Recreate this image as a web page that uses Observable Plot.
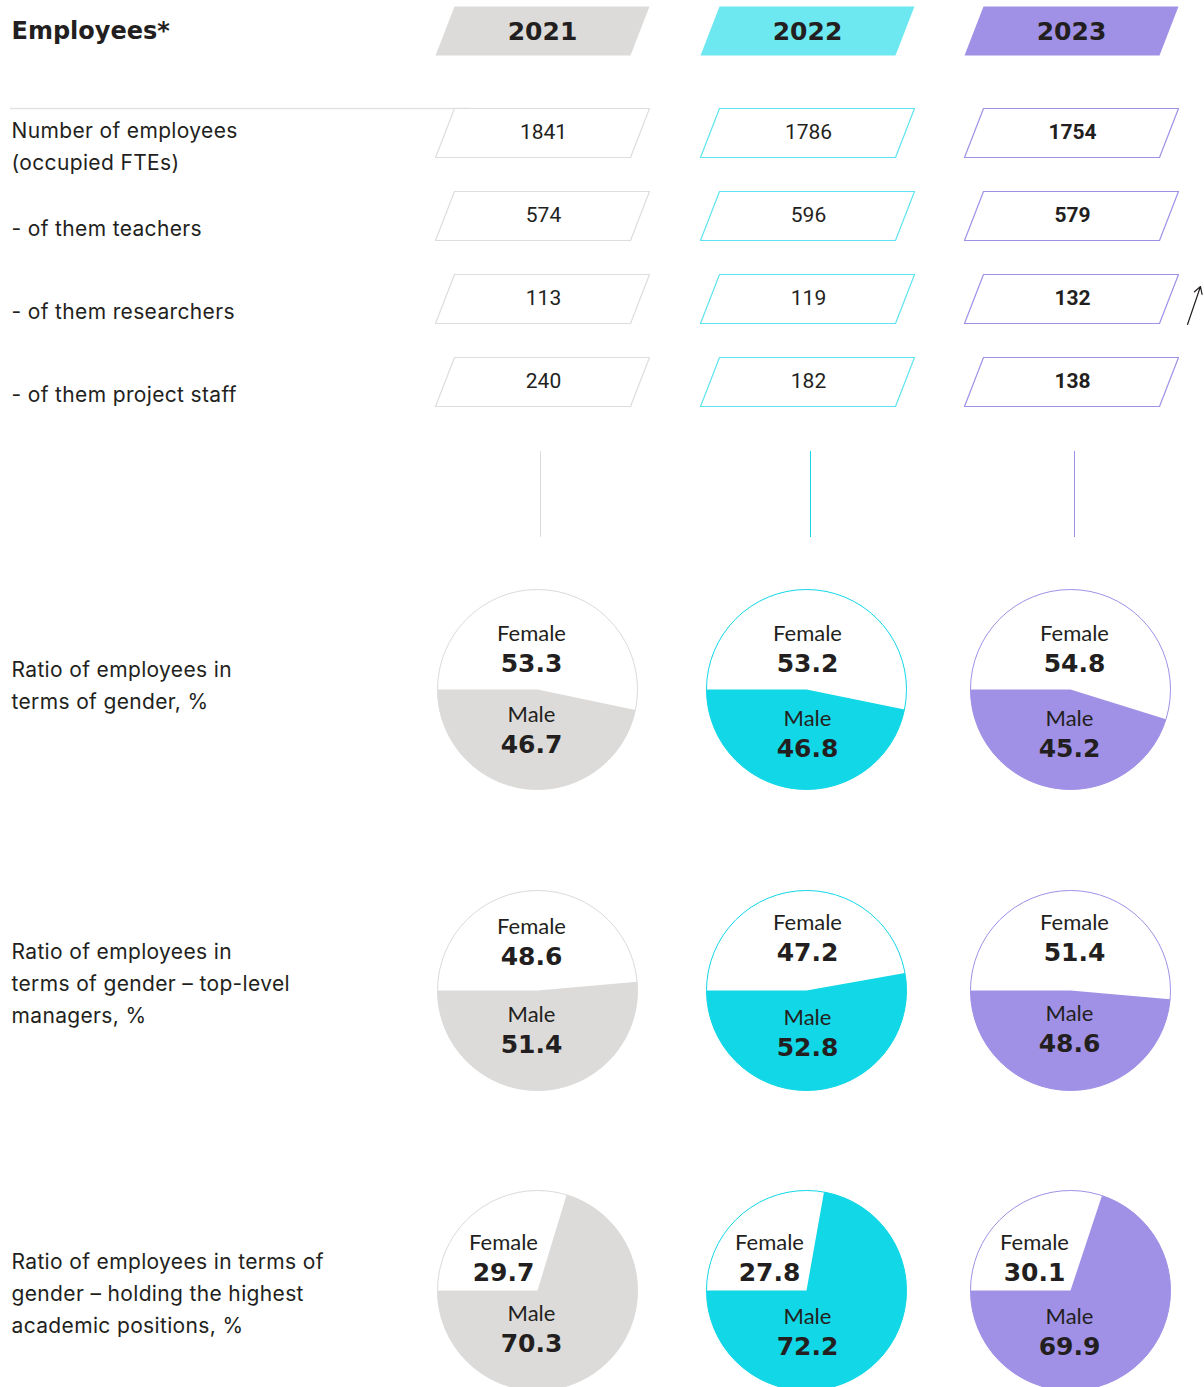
<!DOCTYPE html>
<html>
<head>
<meta charset="utf-8">
<script src="https://cdn.jsdelivr.net/npm/d3@7"></script>
<script src="https://cdn.jsdelivr.net/npm/@observablehq/plot@0.6"></script>
<style>
  html, body { margin: 0; padding: 0; background: #ffffff; }
  #chart svg { display: block; }
  #chart g[font-family="Inter"] text { letter-spacing: 0.35px; }
</style>
</head>
<body>
<div id="chart"></div>
<script>
// ---------------- DATA ----------------
const title = "Employees*";
const years = ["2021", "2022", "2023"];

const rowLabels = [
  "Number of employees\n(occupied FTEs)",
  "- of them teachers",
  "- of them researchers",
  "- of them project staff"
];
const employees2021 = [1841, 574, 113, 240];
const employees2022 = [1786, 596, 119, 182];
const employees2023 = [1754, 579, 132, 138];

const pieLabels = [
  "Ratio of employees in\nterms of gender, %",
  "Ratio of employees in\nterms of gender – top-level\nmanagers, %",
  "Ratio of employees in terms of\ngender – holding the highest\nacademic positions, %"
];
const female2021 = [53.3, 48.6, 29.7];
const female2022 = [53.2, 47.2, 27.8];
const female2023 = [54.8, 51.4, 30.1];
const male2021 = [46.7, 51.4, 70.3];
const male2022 = [46.8, 52.8, 72.2];
const male2023 = [45.2, 48.6, 69.9];
const femaleName = "Female";
const maleName = "Male";

// ---------------- LAYOUT & STYLE ----------------
const W = 1204, H = 1387;
const ink = "#231f20";
const heavyFont = "DejaVu Sans";
const headerFill = {"2021": "#dcdbda", "2022": "#6ee8f0", "2023": "#a091e6"};
const boxStroke = {"2021": "#dedddc", "2022": "#5fe4ef", "2023": "#a091e6"};
const pieFill = {"2021": "#dcdbda", "2022": "#12d7e6", "2023": "#a091e6"};
const pieStroke = {"2021": "#dcdbda", "2022": "#12d7e6", "2023": "#a091e6"};
const colCenter = {"2021": 542, "2022": 807, "2023": 1071};
const pieCX = {"2021": 537, "2022": 806, "2023": 1070};
const ruleXpos = {"2021": 540, "2022": 810, "2023": 1074};
const boxW = 195, boxH = 49, skew = 19;
const headerTop = 6;
const rowTops = [108, 191, 274, 357];
const rowLabelY = [143, 225, 308, 391];
const pieCY = [689, 990, 1290];
const pieLabelY = [682, 980, 1290];
const R = 100;
// label offsets from pie centre: [femaleDx, femaleDy, maleDx, maleDy] per row / year
const labelOff = [
  {"2021": [-6, -56, -6, 25], "2022": [1, -56, 1, 29], "2023": [4, -56, -1, 29]},
  {"2021": [-6, -64, -6, 24], "2022": [1, -68, 1, 27], "2023": [4, -68, -1, 23]},
  {"2021": [-34, -48, -6, 23], "2022": [-37, -48, 1, 26], "2023": [-36, -48, -1, 26]}
];

const employees = {"2021": employees2021, "2022": employees2022, "2023": employees2023};
const female = {"2021": female2021, "2022": female2022, "2023": female2023};
const male = {"2021": male2021, "2022": male2022, "2023": male2023};

// parallelogram outline (closed) centred on cx with top y
function parallelogram(cx, top) {
  const bot = top + boxH;
  const pts = [
    [cx - boxW / 2 - skew / 2, bot],
    [cx + boxW / 2 - skew / 2, bot],
    [cx + boxW / 2 + skew / 2, top],
    [cx - boxW / 2 + skew / 2, top]
  ];
  pts.push(pts[0]);
  return pts.map(([x, y]) => ({x, y}));
}

// male wedge: starts at 9 o'clock, sweeps down and round
function wedge(cx, cy, pct) {
  const a0 = 180, a1 = 180 + pct * 3.6;
  const pts = [{x: cx, y: cy}];
  for (let a = a0; a < a1; a += 1) {
    const t = a * Math.PI / 180;
    pts.push({x: cx + R * Math.cos(t), y: cy - R * Math.sin(t)});
  }
  const t1 = a1 * Math.PI / 180;
  pts.push({x: cx + R * Math.cos(t1), y: cy - R * Math.sin(t1)});
  pts.push({x: cx, y: cy});
  return pts;
}

const marks = [];

// title
marks.push(Plot.text([title], {
  x: 11, y: 31, text: d => d, textAnchor: "start", lineAnchor: "middle",
  fontFamily: heavyFont, fontWeight: 700, fontSize: 24, fill: ink
}));

// horizontal rule under header
marks.push(Plot.ruleY([108], {x1: 10, x2: 470, stroke: "#e2e2e2", strokeWidth: 1.5}));

years.forEach(yr => {
  const cx = colCenter[yr];
  // header box
  marks.push(Plot.line(parallelogram(cx, headerTop), {x: "x", y: "y", fill: headerFill[yr], stroke: "none"}));
  marks.push(Plot.text([yr], {
    x: cx, y: 31, text: d => d, fontFamily: heavyFont, fontWeight: 700, fontSize: 25, fill: ink
  }));
  // value boxes
  rowTops.forEach((top, i) => {
    marks.push(Plot.line(parallelogram(cx, top), {x: "x", y: "y", stroke: boxStroke[yr], strokeWidth: 1.2, fill: "white"}));
  });
  marks.push(Plot.text(employees[yr].map((v, i) => ({v, i})), {
    x: cx + 1, y: d => rowTops[d.i] + 24, text: d => String(d.v),
    fontFamily: "Roboto", fontWeight: yr === "2023" ? 700 : 400, fontSize: 21, fill: ink
  }));
  // vertical connector
  marks.push(Plot.ruleX([ruleXpos[yr]], {y1: 451, y2: 537, stroke: pieStroke[yr], strokeWidth: 1}));
  // pies
  pieCY.forEach((cy, i) => {
    const pcx = pieCX[yr];
    marks.push(Plot.dot([{x: pcx, y: cy}], {x: "x", y: "y", r: R, fill: "white", stroke: pieStroke[yr], strokeWidth: 1}));
    marks.push(Plot.line(wedge(pcx, cy, male[yr][i]), {x: "x", y: "y", fill: pieFill[yr], stroke: "none", curve: "linear"}));
    const o = labelOff[i][yr];
    marks.push(Plot.text([femaleName], {x: pcx + o[0], y: cy + o[1], text: d => d,
      fontFamily: "Lato", fontSize: 22, fontWeight: 400, fill: ink}));
    marks.push(Plot.text([female[yr][i].toFixed(1)], {x: pcx + o[0], y: cy + o[1] + 30, text: d => d,
      fontFamily: heavyFont, fontSize: 25, fontWeight: 700, fill: ink}));
    marks.push(Plot.text([maleName], {x: pcx + o[2], y: cy + o[3], text: d => d,
      fontFamily: "Lato", fontSize: 22, fontWeight: 400, fill: ink}));
    marks.push(Plot.text([male[yr][i].toFixed(1)], {x: pcx + o[2], y: cy + o[3] + 30, text: d => d,
      fontFamily: heavyFont, fontSize: 25, fontWeight: 700, fill: ink}));
  });
});

// left-hand labels
marks.push(Plot.text(rowLabels.map((t, i) => ({t, i})), {
  x: 11, y: d => rowLabelY[d.i], text: "t", textAnchor: "start", lineAnchor: "middle",
  lineHeight: 1.52, fontFamily: "Inter", fontSize: 21, fill: ink
}));
marks.push(Plot.text(pieLabels.map((t, i) => ({t, i})), {
  x: 11, y: d => pieLabelY[d.i], text: "t", textAnchor: "start", lineAnchor: "middle",
  lineHeight: 1.52, fontFamily: "Inter", fontSize: 21, fill: ink
}));

// stray arrow at right edge
marks.push(Plot.arrow([{}], {x1: 1187, y1: 324, x2: 1200, y2: 286, stroke: ink, strokeWidth: 1.2, headLength: 10}));

const chart = Plot.plot({
  width: W, height: H,
  margin: 0,
  style: {background: "#ffffff", overflow: "hidden"},
  x: {domain: [0, W], range: [0, W], axis: null},
  y: {domain: [0, H], range: [0, H], axis: null},
  marks
});
document.getElementById("chart").appendChild(chart);
</script>
</body>
</html>
